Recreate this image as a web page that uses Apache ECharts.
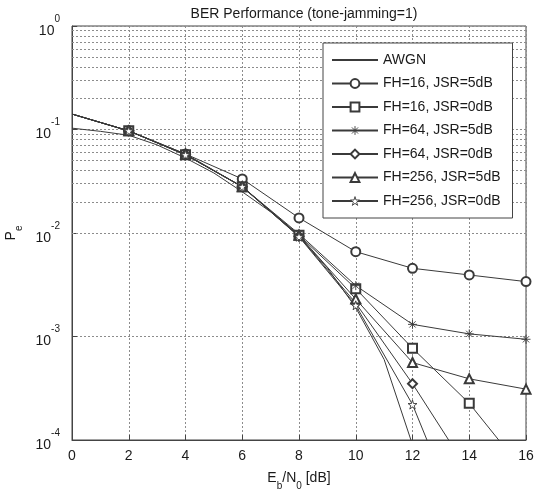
<!DOCTYPE html>
<html>
<head>
<meta charset="utf-8">
<script src="https://cdn.jsdelivr.net/npm/echarts@6/dist/echarts.min.js"></script>
<style>
html,body{margin:0;padding:0;background:#fff;}
#chart{width:546px;height:493px;}
</style>
</head>
<body>
<div id="chart"></div>
<script>
// ---- data ----
const ebn0 = [0, 2, 4, 6, 8, 10, 12, 14, 16];
const ebn0Awgn = [0, 1, 2, 3, 4, 5, 6, 7, 8, 9, 10, 11, 12];
const awgn      = [0.103, 0.096, 0.088, 0.071, 0.053, 0.038, 0.025, 0.0160, 0.0093, 0.0046, 0.0019, 0.00060, 0.00009];
const fh16jsr5  = [0.141, 0.097, 0.058, 0.0333, 0.0140, 0.0066, 0.00456, 0.00393, 0.00339];
const fh16jsr0  = [0.141, 0.097, 0.057, 0.028, 0.0095, 0.0029, 0.00077, 0.000226, 0.000047];
const fh64jsr5  = [0.141, 0.097, 0.057, 0.028, 0.0098, 0.0031, 0.00131, 0.00106, 0.00094];
const fh64jsr0  = [0.141, 0.097, 0.057, 0.028, 0.0093, 0.0021, 0.00035, 0.000049, 0.000007];
const fh256jsr5 = [0.141, 0.097, 0.058, 0.028, 0.0095, 0.0023, 0.00056, 0.00039, 0.00031];
const fh256jsr0 = [0.141, 0.097, 0.057, 0.028, 0.0092, 0.0020, 0.00022, 0.00001, 0.000001];
const seriesNames = ['AWGN', 'FH=16, JSR=5dB', 'FH=16, JSR=0dB', 'FH=64, JSR=5dB',
                     'FH=64, JSR=0dB', 'FH=256, JSR=5dB', 'FH=256, JSR=0dB'];
const xTicks = [0, 2, 4, 6, 8, 10, 12, 14, 16];
const yTickExps = ['0', '-1', '-2', '-3', '-4'];
const titleText = 'BER Performance (tone-jamming=1)';

// ---- styling ----
const FONT = '"Liberation Sans", Arial, Helvetica, sans-serif';
const INK = '#1a1a1a';
const LINE = '#3a3a3a';
const GRID = '#8c8c8c';
const STAR = 'path://M50,0 L61,35 L98,35 L68,57 L79,91 L50,70 L21,91 L32,57 L2,35 L39,35 Z';
const ASTER = 'path://M5,0 L5,10 M0,5 L10,5 M1.5,1.5 L8.5,8.5 M8.5,1.5 L1.5,8.5';
const seriesSymbols = ['none', 'emptyCircle', 'emptyRect', ASTER, 'emptyDiamond', 'emptyTriangle', STAR];

// minor log gridlines (2..9 x 10^d)
const minorVals = [];
for (let d = -4; d <= -1; d++) for (let k = 2; k <= 9; k++) minorVals.push(k * Math.pow(10, d));

function isPath(s) { return s.indexOf('path://') === 0; }

function fhSeries(idx, vals) {
  const symbol = seriesSymbols[idx];
  return {
    name: seriesNames[idx], type: 'line', clip: true, z: 3,
    symbol: symbol, symbolSize: 9,
    lineStyle: {color: LINE, width: 1, type: 'solid'},
    itemStyle: isPath(symbol) ? {color: '#fff', borderColor: LINE, borderWidth: 0.9}
                              : {color: LINE, borderColor: LINE, borderWidth: 0.9},
    emphasis: {disabled: true},
    data: ebn0.map((x, i) => i === 0 ? {value: [x, vals[i]], symbol: 'none'} : [x, vals[i]])
  };
}

const legendData = seriesNames.map((n, i) => isPath(seriesSymbols[i])
  ? {name: n, itemStyle: {color: '#fff', borderColor: LINE, borderWidth: 0.9}}
  : {name: n});

const chart = echarts.init(document.getElementById('chart'), null, {renderer: 'canvas'});
chart.setOption({
  animation: false,
  backgroundColor: '#fff',
  textStyle: {fontFamily: FONT},
  title: {
    text: titleText, left: 299, top: 2, textAlign: 'center',
    textStyle: {fontFamily: FONT, fontSize: 14, fontWeight: 'normal', color: INK}
  },
  grid: {left: 72, right: 20, top: 26, bottom: 53, show: true, borderColor: '#444', borderWidth: 1,
         containLabel: false, outerBoundsMode: 'none'},
  legend: {
    data: legendData, orient: 'vertical', left: 323, top: 43,
    backgroundColor: '#fff', borderColor: '#444', borderWidth: 1,
    padding: [10, 12, 10, 8], itemWidth: 46, itemHeight: 11, itemGap: 9.5,
    textStyle: {fontFamily: FONT, fontSize: 14, color: INK},
    selectedMode: false
  },
  xAxis: {
    type: 'value', min: 0, max: 16, interval: 2,
    name: '{n|E}{s|b}{n|/N}{s|0}{n| [dB]}', nameLocation: 'middle', nameGap: 31,
    nameTextStyle: {rich: {
      n: {fontFamily: FONT, fontSize: 14, color: INK, verticalAlign: 'top', lineHeight: 20},
      s: {fontFamily: FONT, fontSize: 10, color: INK, verticalAlign: 'bottom', lineHeight: 20}
    }},
    axisLine: {show: true, lineStyle: {color: '#444'}},
    axisTick: {show: true, inside: true, length: 5, lineStyle: {color: '#444'}},
    axisLabel: {fontFamily: FONT, fontSize: 14, color: INK, margin: 9,
      formatter: v => xTicks.indexOf(v) >= 0 ? String(v) : ''},
    splitLine: {show: true, lineStyle: {color: GRID, type: [2, 2], width: 1}}
  },
  yAxis: {
    type: 'log', logBase: 10, min: 0.0001, max: 1,
    name: '{n|P}{s|e}', nameLocation: 'middle', nameGap: 45, nameRotate: 90,
    nameTextStyle: {rich: {
      n: {fontFamily: FONT, fontSize: 14, color: INK, verticalAlign: 'top', lineHeight: 20},
      s: {fontFamily: FONT, fontSize: 10, color: INK, verticalAlign: 'bottom', lineHeight: 20}
    }},
    axisLine: {show: true, lineStyle: {color: '#444'}},
    axisTick: {show: true, inside: true, length: 5, lineStyle: {color: '#444'}},
    axisLabel: {
      margin: 12,
      formatter: v => {
        const e = Math.round(Math.log10(v));
        const lab = yTickExps[-e];
        return '{b|10}{e|' + lab + '}';
      },
      rich: {
        b: {fontFamily: FONT, fontSize: 14, color: INK, verticalAlign: 'bottom', lineHeight: 24},
        e: {fontFamily: FONT, fontSize: 10, color: INK, verticalAlign: 'top', lineHeight: 24}
      }
    },
    splitLine: {show: true, lineStyle: {color: GRID, type: [2, 2], width: 1}}
  },
  series: [
    {
      name: '__minorgrid', type: 'line', data: [], silent: true, z: 1,
      markLine: {
        silent: true, symbol: 'none', z: 1, animation: false,
        label: {show: false},
        lineStyle: {color: GRID, type: [2, 2], width: 1},
        emphasis: {disabled: true},
        data: minorVals.map(v => ({yAxis: v}))
      }
    },
    {
      name: seriesNames[0], type: 'line', clip: true, z: 3,
      symbol: 'circle', showSymbol: false,
      lineStyle: {color: LINE, width: 1, type: 'solid'},
      itemStyle: {color: LINE, opacity: 0},
      emphasis: {disabled: true},
      data: ebn0Awgn.map((x, i) => [x, awgn[i]])
    },
    fhSeries(1, fh16jsr5),
    fhSeries(2, fh16jsr0),
    fhSeries(3, fh64jsr5),
    fhSeries(4, fh64jsr0),
    fhSeries(5, fh256jsr5),
    fhSeries(6, fh256jsr0)
  ]
});
</script>
</body>
</html>
